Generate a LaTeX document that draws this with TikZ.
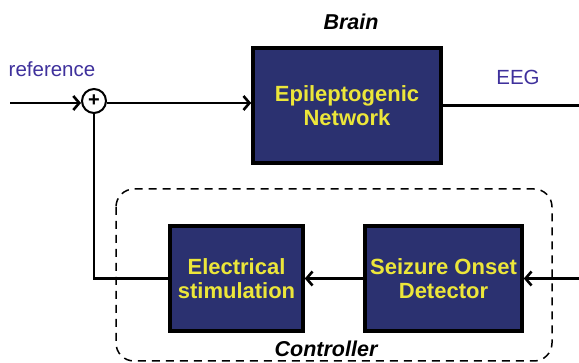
\documentclass[tikz,border=0pt]{standalone}
\usepackage{fontspec}
\setmainfont{Liberation Sans}
\usepackage{tikz}
\usetikzlibrary{arrows.meta,calc}
\usepackage{xcolor}
\definecolor{Navy}{HTML}{2B3170}
\definecolor{Lemon}{HTML}{ECE63A}
\definecolor{Indigo}{HTML}{3F319C}
\newcommand{\cli}{\textcolor{Indigo}}

\tikzset{
  block/.style={draw=black,line width=3.6pt,fill=Navy,text=Lemon,align=center,
    inner sep=0pt,font=\fontsize{22}{24}\selectfont\bfseries},
  sig/.style={line width=2.2pt,-{Straight Barb[length=6pt,width=14pt,line width=2.6pt]}},
  wire/.style={line width=2.2pt},
  title/.style={anchor=base,font=\fontsize{21.5}{22}\selectfont\bfseries\itshape},
  lbl/.style={anchor=base,font=\fontsize{20.5}{22}\selectfont}
}

\begin{document}
\begin{tikzpicture}[x=1pt,y=-1pt]
    \useasboundingbox (0,0) rectangle (579,363);

    % brain
    \node[title] (brain) at (351,30) {Brain};
    \node[block,minimum width=188pt,minimum height=115pt] (net) at (347,105.5) {Epileptogenic\\Network};
    \node[draw,circle,line width=2pt,minimum size=24pt,inner sep=0pt,font=\fontsize{20}{20}\selectfont\bfseries] (sum) at (94,101) {+};
    \node[lbl] (ref) at (52,77) {\cli{reference}};
    \node[lbl] (eeg) at (518,85) {\cli{EEG}};
    \coordinate (in) at (10,103);
    \coordinate (out) at (579,105.5);

    % controller
    \draw[line width=1.5pt,dash pattern=on 8pt off 6pt,rounded corners=18pt] (116,189) rectangle (552,361);
    \node[title] (ctrl) at (326,357) {Controller};
    \node[block,minimum width=133pt,minimum height=105pt] (stim) at (236.5,278.5) {Electrical\\stimulation};
    \node[block,minimum width=157pt,minimum height=105pt] (det) at (443.5,278.5) {Seizure Onset\\Detector};
    \coordinate (fb) at (579,278.5);

    \draw[sig] (in) -- (in -| sum.west);
    \draw[sig] (sum.east |- in) -- (in -| net.west);
    \draw[wire] (net.east) -- (out);
    \draw[sig] (fb) -- (det.east);
    \draw[sig] (det.west) -- (stim.east);
    \draw[wire] (stim.west) -- (stim.west -| sum) -- (sum.south);
\end{tikzpicture}
\end{document}
